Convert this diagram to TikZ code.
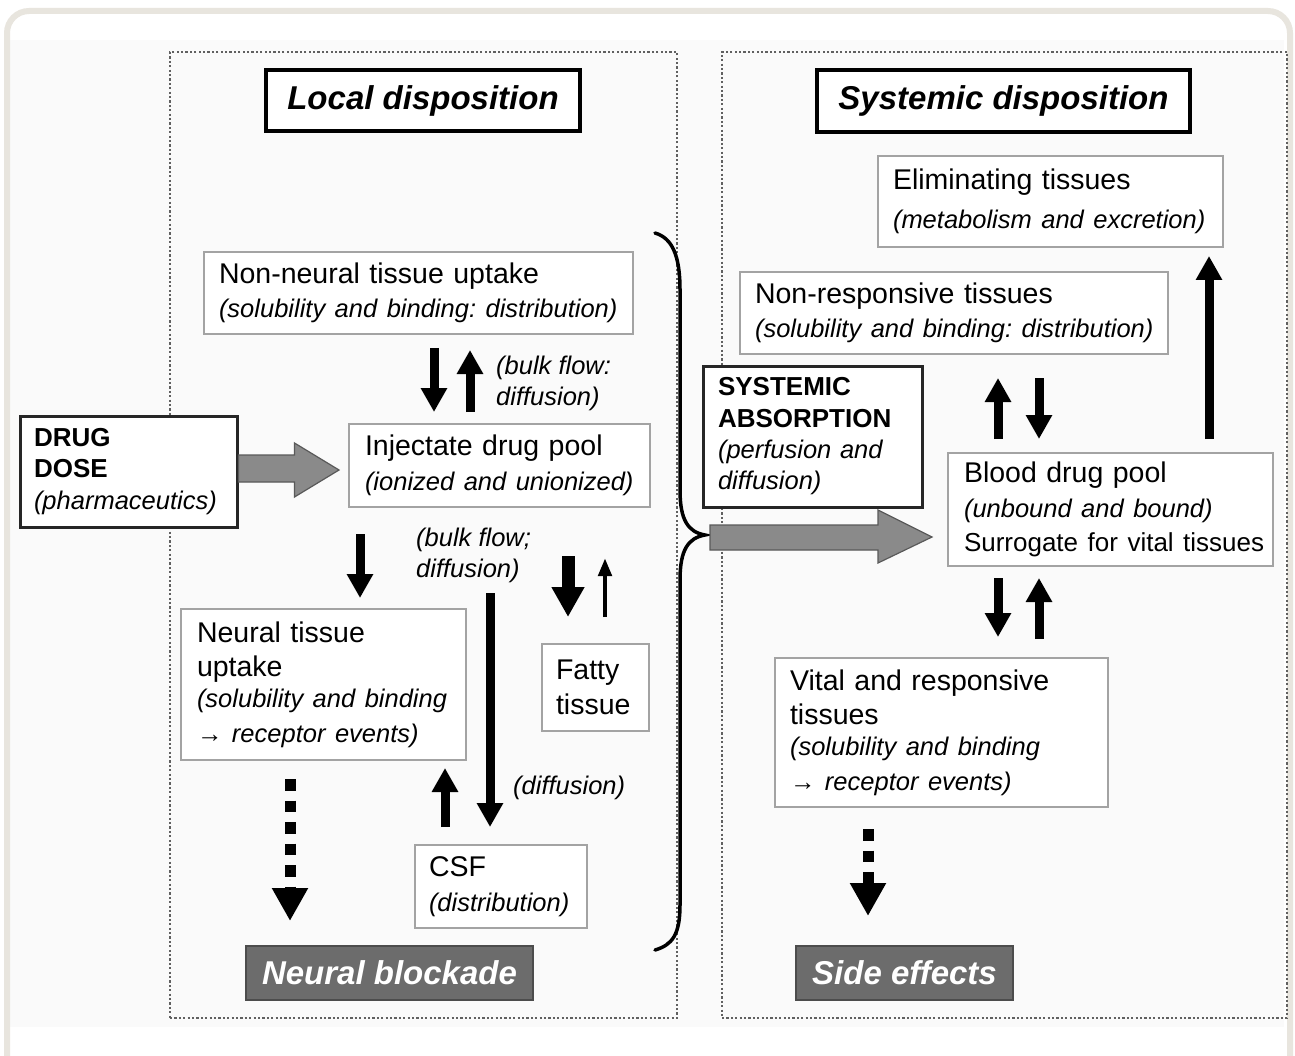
\documentclass[tikz,border=0pt]{standalone}
\usepackage{fontspec}
\setmainfont{Liberation Sans}
\usetikzlibrary{arrows.meta,calc}
\definecolor{framec}{HTML}{E8E5DE}
\definecolor{panelc}{HTML}{FAFAFA}
\definecolor{dotc}{HTML}{606060}
\definecolor{boxc}{HTML}{A3A3A3}
\definecolor{arrowgrey}{HTML}{8A8A8A}
\definecolor{darkfill}{HTML}{6C6C6C}
\hyphenpenalty=10000
\exhyphenpenalty=10000
\frenchspacing
\newcommand{\fmain}{\fontsize{28.5}{34.5}\selectfont}
\newcommand{\fital}{\fontsize{25.5}{31}\selectfont\itshape}
\newcommand{\fbold}{\fontsize{26}{31.5}\selectfont\bfseries}
\newcommand{\ftitle}{\fontsize{33}{38}\selectfont\bfseries\itshape}
\newcommand{\nb}[1]{\mbox{#1}}
\tikzset{
  tbox/.style={draw=boxc, line width=2pt, fill=white, align=left, inner xsep=15pt, inner ysep=0pt, font=\fmain},
  thickbox/.style={draw=black!85, line width=3pt, fill=white, align=left, inner xsep=14pt, inner ysep=0pt, font=\fbold},
  titlebox/.style={draw=black, line width=4.5pt, fill=white, inner sep=0pt, align=center, font=\ftitle},
  outcome/.style={draw=black!70, line width=2pt, fill=darkfill, text=white, inner sep=0pt, align=center, font=\ftitle},
  dotbox/.style={draw=dotc, line width=2.2pt, dash pattern=on 2.2pt off 2.2pt, inner sep=0pt},
  lbl/.style={inner sep=0pt, align=left, anchor=west, font=\fital},
  arr/.style={line width=9pt, -{Triangle[width=25pt,length=24pt]}},
  arrbig/.style={line width=13pt, -{Triangle[width=31pt,length=30pt]}},
  arrthin/.style={line width=4.5pt, -{Triangle[width=13pt,length=18pt]}},
  dotarr/.style={line width=11pt, dash pattern=on 11.5pt off 10pt, -{Triangle[width=34pt,length=33pt]}},
  fatarrow/.style={fill=arrowgrey, draw=black!65, line width=1.2pt, line join=miter},
}
\begin{document}
\begin{tikzpicture}[x=1pt,y=-1pt]
\useasboundingbox (0,0) rectangle (1295,1056);
\fill[white] (0,0) rectangle (1295,1056);
\fill[panelc] (10,40) rectangle (1284,1027);
\draw[framec, line width=6pt, rounded corners=22pt] (7,11) rectangle (1290,1100);

% panels
\node[dotbox, minimum width=507pt, minimum height=966pt] (leftpanel) at (423.5,535) {};
\node[dotbox, minimum width=565pt, minimum height=966pt] (rightpanel) at (1004.5,535) {};

% titles
\node[titlebox, minimum width=314pt, minimum height=61pt] (localt) at (423,100.5) {Local disposition};
\node[titlebox, minimum width=373pt, minimum height=62pt] (systt) at (1003.5,101) {Systemic disposition};

% left boxes
\node[tbox, text width=399pt, minimum height=82pt] (nonneural) at (418.5,293)
  {\nb{Non-neural tissue uptake}\\{\fital\nb{(solubility and binding: distribution)}}};
\node[tbox, text width=269pt, inner xsep=16pt, minimum height=83pt] (inj) at (499.5,465.5)
  {\nb{Injectate drug pool}\\{\fital\nb{(ionized and unionized)}}};
\node[tbox, text width=253pt, inner xsep=16pt, minimum height=151pt] (neural) at (323.5,684.5)
  {\nb{Neural tissue}\\uptake\\{\fital\nb{(solubility and binding}\\\nb{\textrightarrow\ receptor events)}}};
\node[tbox, text width=79pt, inner xsep=14pt, minimum height=87pt] (fatty) at (595.5,687.5)
  {Fatty\\tissue};
\node[tbox, text width=144pt, inner xsep=14pt, minimum height=83pt] (csf) at (501,886.5)
  {CSF\\{\fital\nb{(distribution)}}};
\node[outcome, minimum width=287pt, minimum height=54pt] (blockade) at (389.5,973) {Neural blockade};
\node[thickbox, text width=189pt, minimum height=111pt] (drug) at (128.5,471.5)
  {DRUG\\DOSE\\{\mdseries\fital\nb{(pharmaceutics)}}};

% right boxes
\node[tbox, text width=315pt, minimum height=91pt] (elim) at (1050.5,201.5)
  {\nb{Eliminating tissues}\\[4pt]{\fital\nb{(metabolism and excretion)}}};
\node[tbox, text width=398pt, minimum height=82pt] (nonresp) at (954,313)
  {\nb{Non-responsive tissues}\\{\fital\nb{(solubility and binding: distribution)}}};
\node[thickbox, text width=189pt, inner xsep=15pt, minimum height=141pt] (sysabs) at (812.5,436.5)
  {SYSTEMIC\\ABSORPTION\\{\mdseries\fital\nb{(perfusion and}\\diffusion)}};
\node[tbox, text width=293pt, inner xsep=16pt, minimum height=113pt] (blood) at (1110.5,509.5)
  {\nb{Blood drug pool}\\{\fital\nb{(unbound and bound)}}\\{\fontsize{26}{34}\selectfont\nb{Surrogate for vital tissues}}};
\node[tbox, text width=303pt, minimum height=149pt] (vital) at (941.5,732.5)
  {\nb{Vital and responsive}\\tissues\\{\fital\nb{(solubility and binding}\\\nb{\textrightarrow\ receptor events)}}};
\node[outcome, minimum width=217pt, minimum height=54pt] (sideeff) at (904.5,973) {Side effects};

% labels
\node[lbl] (lab1) at (496,383) {(bulk flow:\\diffusion)};
\node[lbl] (lab2) at (416,555) {(bulk flow;\\diffusion)};
\node[lbl] (lab3) at (513,788) {(diffusion)};

% brace
\coordinate (bracetop) at (655,233);
\coordinate (bracetip) at (705,535);
\coordinate (bracebot) at (655,950);
\draw[line width=3.5pt, line cap=round] (bracetop) .. controls (672,238) and (680,255) .. (680,290)
  -- (680,490) .. controls (680,520) and (688,532) .. (bracetip)
  .. controls (688,538) and (680,550) .. (680,580)
  -- (680,905) .. controls (680,935) and (672,945) .. (bracebot);

% fat grey arrows
\filldraw[fatarrow] ($(drug.east)+(0,-16.5)$) -- ++(56,0) -- ++(0,-12) -- ($(inj.west)+(-9,4.5)$)
  -- ($(drug.east)+(56,25.5)$) -- ++(0,-15) -- ($(drug.east)+(0,10.5)$) -- cycle;
\filldraw[fatarrow] ($(bracetip)+(5,-10)$) -- ++(168,0) -- ++(0,-15) -- ($(blood.west)+(-15,27.5)$)
  -- ($(bracetip)+(173,28)$) -- ++(0,-13) -- ($(bracetip)+(5,15)$) -- cycle;

% left arrows
\draw[arr] ([xshift=15.5pt,yshift=-13pt]nonneural.south) -- ([xshift=-65.5pt,yshift=11pt]inj.north);
\draw[arr] ([xshift=-29.5pt,yshift=11pt]inj.north) -- ([xshift=51.5pt,yshift=-15pt]nonneural.south);
\draw[arr] ([xshift=-139.5pt,yshift=-26pt]inj.south) -- ([xshift=36.5pt,yshift=10pt]neural.north);
\draw[arr] ([xshift=-9.5pt,yshift=-85pt]inj.south) -- ([xshift=-11pt,yshift=17pt]csf.north);
\draw[arrbig] ([xshift=68.5pt,yshift=-48pt]inj.south) -- ([xshift=-27.5pt,yshift=26pt]fatty.north);
\draw[arrthin] ([xshift=9.5pt,yshift=26pt]fatty.north) -- ([xshift=105.5pt,yshift=-50pt]inj.south);
\draw[arr] ([xshift=-56pt,yshift=17pt]csf.north) -- ([xshift=121.5pt,yshift=-7pt]neural.south);
\draw[dotarr] ([xshift=-33.5pt,yshift=-18pt]neural.south) -- ([xshift=-99.5pt,yshift=24pt]blockade.north);

% right arrows
\draw[arr] ([xshift=-112.5pt,yshift=13pt]blood.north) -- ([xshift=44pt,yshift=-23pt]nonresp.south);
\draw[arr] ([xshift=85pt,yshift=-23pt]nonresp.south) -- ([xshift=-71.5pt,yshift=13pt]blood.north);
\draw[arr] ([xshift=-112.5pt,yshift=-11pt]blood.south) -- ([xshift=56.5pt,yshift=20pt]vital.north);
\draw[arr] ([xshift=97.5pt,yshift=18pt]vital.north) -- ([xshift=-71.5pt,yshift=-11pt]blood.south);
\draw[arr] ([xshift=98.5pt,yshift=13pt]blood.north) -- ([xshift=158.5pt,yshift=-8pt]elim.south);
\draw[dotarr] ([xshift=-73.5pt,yshift=-21pt]vital.south) -- ([xshift=-36.5pt,yshift=29pt]sideeff.north);
\end{tikzpicture}
\end{document}
